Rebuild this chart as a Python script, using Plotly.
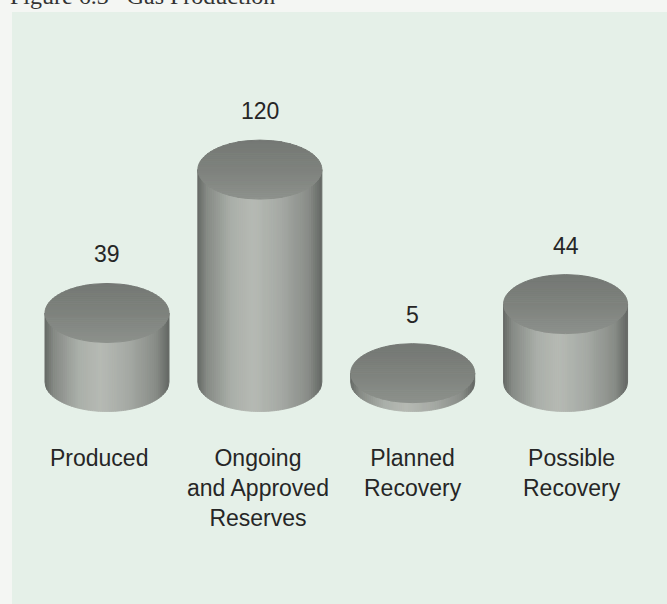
import numpy as np
import plotly.graph_objects as go

# Gas volumes by category
categories = ["Produced", "Ongoing<br>and Approved<br>Reserves", "Planned<br>Recovery", "Possible<br>Recovery"]
values = [39, 120, 5, 44]
value_labels = ["39", "120", "5", "44"]
title_text = "Figure 6.3   Gas Production"

W, H = 667, 604
PX_PER_UNIT = 1.77       # vertical pixels per unit of value
BASE_PX = 382            # pixel row of the zero line (centre of the base ellipse)
X0_PX, X_STEP_PX = 107, 152.85

x_range = [-X0_PX / X_STEP_PX, (W - X0_PX) / X_STEP_PX]
y_range = [-(H - BASE_PX) / PX_PER_UNIT, BASE_PX / PX_PER_UNIT]

R = 62 / X_STEP_PX       # cylinder radius in x units
B = 29.5 / PX_PER_UNIT   # ellipse half-height in y units

# horizontal shading across the cylinder body (u from -1 to 1)
body_stops = [(-1.0, (100, 104, 100)), (-0.85, (134, 138, 133)), (-0.45, (170, 175, 169)),
              (-0.1, (182, 186, 180)), (0.35, (165, 169, 164)), (0.8, (136, 140, 135)),
              (1.0, (100, 104, 100))]
cap_stops = [(-1.0, (116, 120, 116)), (0.0, (126, 130, 125)), (1.0, (140, 144, 139))]

# small horizontal nudges of the category captions
caption_xshift = [-8, -2, 0, 6]


def interp(stops, u):
    for (u0, c0), (u1, c1) in zip(stops[:-1], stops[1:]):
        if u0 <= u <= u1:
            t = (u - u0) / (u1 - u0)
            return "rgb(%d,%d,%d)" % tuple(round(a + (b - a) * t) for a, b in zip(c0, c1))
    return "rgb(%d,%d,%d)" % stops[-1][1]


def path(points):
    return "M " + " L ".join(f"{x:.5f},{y:.5f}" for x, y in points) + " Z"


shapes = []
# panel behind the chart
shapes.append(dict(type="rect", xref="paper", yref="paper", x0=12 / W, x1=1.0, y0=0, y1=1 - 12 / H,
                   fillcolor="#e5f0e8", line=dict(width=0), layer="below"))

N_STRIPS = 60
N_BANDS = 30
for i, v in enumerate(values):
    cx = i
    # body: vertical strips between the front edge of the top and bottom ellipses
    for k in range(N_STRIPS):
        u0 = -1 + 2 * k / N_STRIPS
        u1 = -1 + 2 * (k + 1) / N_STRIPS
        us = np.linspace(u0, u1, 4)
        top = [(cx + R * u, v - B * np.sqrt(max(0.0, 1 - u * u))) for u in us]
        bot = [(cx + R * u, -B * np.sqrt(max(0.0, 1 - u * u))) for u in us[::-1]]
        col = interp(body_stops, (u0 + u1) / 2)
        shapes.append(dict(type="path", xref="x", yref="y", path=path(top + bot),
                           fillcolor=col, line=dict(color=col, width=1), layer="above"))
    # cap: horizontal bands of the top ellipse, darker at the back
    for k in range(N_BANDS):
        t0 = 1 - 2 * k / N_BANDS
        t1 = 1 - 2 * (k + 1) / N_BANDS
        ts = np.linspace(t0, t1, 4)
        right = [(cx + R * np.sqrt(max(0.0, 1 - t * t)), v + B * t) for t in ts]
        left = [(cx - R * np.sqrt(max(0.0, 1 - t * t)), v + B * t) for t in ts[::-1]]
        col = interp(cap_stops, -(t0 + t1) / 2)
        shapes.append(dict(type="path", xref="x", yref="y", path=path(right + left),
                           fillcolor=col, line=dict(color=col, width=1), layer="above"))

annotations = []
text_font = dict(family="Liberation Sans, Arial, Helvetica, sans-serif", size=23, color="#262626")
for i, (v, lab) in enumerate(zip(values, value_labels)):
    annotations.append(dict(x=i, y=v + B, xref="x", yref="y", text=lab, showarrow=False,
                            yanchor="middle", yshift=29, font=text_font))
for i, cat in enumerate(categories):
    annotations.append(dict(x=i, y=-34.5, xref="x", yref="y", text=cat, showarrow=False,
                            yanchor="top", align="center", xshift=caption_xshift[i], font=text_font))

# title, running off the top edge of the page
annotations.append(dict(x=8 / W, y=1, xref="paper", yref="paper", text=title_text, showarrow=False,
                        xanchor="left", yanchor="bottom", yshift=-11,
                        font=dict(family="Liberation Serif, Times New Roman, serif", size=24, color="#333333")))

fig = go.Figure()
fig.add_trace(go.Scatter(x=[0, 3], y=[0, 0], mode="markers", marker=dict(opacity=0),
                         hoverinfo="skip", showlegend=False))
fig.update_layout(
    width=W, height=H,
    margin=dict(l=0, r=0, t=0, b=0),
    paper_bgcolor="#f4f6f3",
    plot_bgcolor="rgba(0,0,0,0)",
    xaxis=dict(range=x_range, visible=False, fixedrange=True),
    yaxis=dict(range=y_range, visible=False, fixedrange=True),
    shapes=shapes,
    annotations=annotations,
    showlegend=False,
)
fig.write_html("out.html")
